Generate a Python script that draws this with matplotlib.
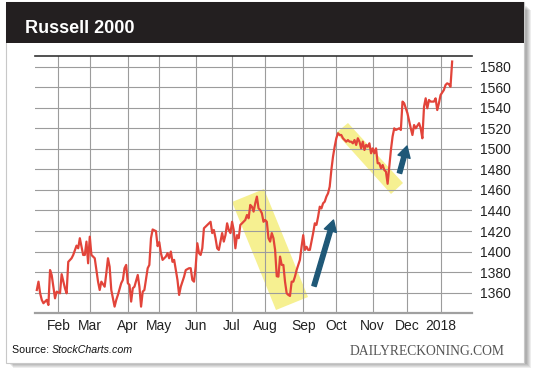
"""Russell 2000 daily close, Jan 2017 - Jan 2018 (StockCharts style card)."""

import matplotlib.pyplot as plt
import numpy as np
from matplotlib.patches import Polygon, Rectangle

W, H = 540, 376

# trading sessions counted from 3 Jan 2017 (session 0)
session = [
    7, 8, 9, 10, 11, 13, 14, 15, 16, 18, 19, 21, 22, 24, 25, 26, 28, 29, 31, 32,
    33, 35, 36, 37, 38, 39, 40, 42, 43, 44, 45, 46, 48, 49, 50, 51, 52, 54, 55, 56,
    58, 59, 60, 61, 62, 63, 64, 65, 66, 68, 69, 70, 71, 72, 74, 75, 76, 77, 79, 80,
    81, 82, 83, 85, 86, 87, 88, 89, 90, 92, 93, 94, 96, 97, 99, 100, 101, 102, 103, 104,
    105, 106, 107, 108, 109, 111, 112, 113, 114, 115, 116, 117, 118, 119, 120, 121, 122, 123, 124, 125,
    126, 127, 128, 129, 130, 131, 133, 134, 135, 136, 137, 138, 139, 140, 141, 142, 143, 144, 145, 146,
    147, 148, 149, 150, 151, 152, 153, 154, 155, 156, 157, 158, 159, 160, 161, 162, 163, 164, 165, 166,
    167, 168, 169, 170, 171, 172, 173, 174, 175, 176, 177, 178, 179, 180, 181, 182, 183, 184, 185, 186,
    187, 188, 189, 190, 191, 192, 193, 194, 195, 196, 197, 198, 199, 200, 201, 202, 203, 204, 205, 206,
    207, 208, 209, 210, 211, 212, 213, 214, 215, 216, 217, 218, 219, 220, 221, 222, 223, 224, 226, 227,
    228, 229, 230, 231, 233, 234, 235, 236, 238, 239, 240, 241, 242, 243, 244, 245, 247, 248, 249, 250,
    251, 253, 254, 255, 256, 257, 258,
]
close = [
    1362.6, 1370.7, 1359.4, 1352.9, 1349.7, 1353.0, 1348.0, 1382.0, 1377.0, 1354.5,
    1361.0, 1359.4, 1378.0, 1364.3, 1359.4, 1390.0, 1393.5, 1396.7, 1405.8, 1403.2,
    1413.0, 1396.7, 1396.7, 1409.7, 1388.6, 1414.5, 1396.7, 1393.5, 1382.0, 1370.7,
    1362.6, 1370.7, 1365.8, 1378.9, 1393.5, 1385.3, 1362.6, 1346.4, 1352.9, 1357.8,
    1369.2, 1372.4, 1383.8, 1387.0, 1369.2, 1367.5, 1351.3, 1364.3, 1365.8, 1377.2,
    1365.8, 1346.4, 1361.0, 1362.6, 1383.8, 1387.0, 1413.0, 1421.5, 1419.9, 1405.3,
    1409.2, 1398.5, 1391.9, 1395.1, 1398.5, 1393.5, 1400.0, 1390.0, 1391.9, 1372.4,
    1357.8, 1365.8, 1375.6, 1382.0, 1383.8, 1383.8, 1372.4, 1370.7, 1385.3, 1408.1,
    1398.5, 1396.7, 1403.2, 1422.7, 1424.3, 1427.5, 1429.0, 1418.0, 1421.0, 1413.0,
    1403.2, 1401.6, 1409.7, 1418.0, 1409.7, 1416.0, 1427.5, 1421.0, 1418.0, 1429.0,
    1421.0, 1403.2, 1416.0, 1413.0, 1426.0, 1427.5, 1430.8, 1435.6, 1432.4, 1445.4,
    1443.7, 1438.9, 1447.0, 1453.5, 1442.1, 1440.5, 1437.3, 1429.0, 1430.8, 1429.0,
    1413.0, 1409.7, 1418.0, 1413.0, 1401.6, 1376.0, 1375.6, 1395.1, 1387.0, 1387.0,
    1370.7, 1359.4, 1357.8, 1356.8, 1370.7, 1370.7, 1375.6, 1382.0, 1387.0, 1391.9,
    1404.7, 1416.0, 1401.6, 1404.7, 1401.6, 1401.6, 1409.7, 1418.0, 1427.5, 1426.0,
    1434.0, 1443.7, 1442.0, 1447.0, 1448.6, 1453.5, 1456.7, 1463.2, 1479.4, 1492.4,
    1502.1, 1510.3, 1515.2, 1513.5, 1513.5, 1510.3, 1508.6, 1507.0, 1508.6, 1507.0,
    1507.0, 1505.4, 1508.6, 1503.8, 1510.3, 1507.0, 1500.5, 1507.0, 1498.9, 1503.8,
    1502.1, 1505.4, 1495.7, 1500.5, 1495.7, 1500.5, 1486.0, 1486.0, 1481.1, 1484.3,
    1479.4, 1477.8, 1466.0, 1482.6, 1499.0, 1512.0, 1520.0, 1518.4, 1520.0, 1518.4,
    1546.0, 1544.4, 1539.5, 1534.6, 1520.0, 1513.5, 1523.2, 1520.0, 1525.0, 1520.0,
    1510.3, 1541.0, 1549.2, 1539.5, 1547.6, 1546.0, 1546.0, 1549.2, 1537.8, 1544.4,
    1552.4, 1557.3, 1562.2, 1563.8, 1563.0, 1560.5, 1585.0,
]

month_starts = [
    "2017-02-01", "2017-03-01", "2017-04-01", "2017-05-01", "2017-06-01", "2017-07-01",
    "2017-08-01", "2017-09-01", "2017-10-01", "2017-11-01", "2017-12-01", "2018-01-01",
]
month_labels = ["Feb", "Mar", "Apr", "May", "Jun", "Jul", "Aug", "Sep", "Oct", "Nov", "Dec", "2018"]
holidays = [
    "2017-01-16", "2017-02-20", "2017-04-14", "2017-05-29", "2017-07-04",
    "2017-09-04", "2017-11-23", "2017-12-25", "2018-01-01",
]
y_ticks = list(range(1360, 1581, 20))


def fig_xy(x, y):
    # pixel position (from top-left) -> figure fraction
    return x / W, 1 - y / H


fig = plt.figure(figsize=(W / 100, H / 100), dpi=100)
fig.patch.set_facecolor("white")

# card with soft drop shadow
for i in range(1, 6):
    x0, y0 = fig_xy(8 + i, 363 + i)
    fig.add_artist(Rectangle((x0, y0), 518 / W, 358 / H, transform=fig.transFigure,
                             facecolor="black", alpha=0.07, edgecolor="none", zorder=-5))
x0, y0 = fig_xy(6, 363)
fig.add_artist(Rectangle((x0, y0), 518 / W, 361 / H, transform=fig.transFigure,
                         facecolor="white", edgecolor="#c8c8c8", lw=0.8, zorder=-4))
x0, y0 = fig_xy(6, 43)
fig.add_artist(Rectangle((x0, y0), 518 / W, 41 / H, transform=fig.transFigure,
                         facecolor="#231f20", edgecolor="none", zorder=-3))
fig.text(*fig_xy(25, 33), "Russell 2000", color="white", fontsize=13, fontweight="bold",
         family="Liberation Sans", va="baseline", ha="left")

ax = fig.add_axes([35 / W, 63 / H, 437 / W, 257 / H])
ax.set_facecolor("none")
ax.set_axisbelow(True)

# highlight bands and arrows (pixel positions on the card)
bands = [
    [(232, 202), (264, 189), (308, 297), (276, 310)],
    [(336, 133), (348, 123), (403, 183), (391, 194)],
]
for band in bands:
    ax.add_patch(Polygon([fig_xy(x, y) for x, y in band], closed=True, transform=fig.transFigure,
                         facecolor="#f6f091", edgecolor="none", zorder=0.3, clip_on=False))

ax.plot(session, close, color="#e2443a", lw=1.6, zorder=3)

arrows = [((314, 286), (333.5, 220)), ((399.5, 173), (407, 146))]
for (tx, ty), (hx, hy) in arrows:
    ax.annotate("", xy=fig_xy(hx, hy), xycoords="figure fraction",
                xytext=fig_xy(tx, ty), textcoords="figure fraction",
                arrowprops=dict(arrowstyle="simple,head_width=0.45,head_length=0.4,tail_width=0.16",
                                mutation_scale=20, color="#1f5877", shrinkA=0, shrinkB=0),
                zorder=4)

ticks = np.busday_count("2017-01-03", month_starts, holidays=holidays)
ax.set_xticks(ticks)
ax.set_xticklabels(month_labels)
ax.set_yticks(y_ticks)
ax.set_xlim(5.9, 270)
ax.set_ylim(1340.2, 1590.4)
ax.yaxis.tick_right()
ax.tick_params(axis="both", length=0, labelsize=10, colors="#222222")
ax.tick_params(axis="x", pad=4)
ax.tick_params(axis="y", pad=6)
for label in ax.get_xticklabels() + ax.get_yticklabels():
    label.set_family("Liberation Sans")
ax.grid(True, color="#9c9c9c", lw=0.8)

for side in ("left", "right"):
    ax.spines[side].set_visible(False)
ax.spines["top"].set_color("#333333")
ax.spines["top"].set_linewidth(1.2)
ax.spines["bottom"].set_color("#a0a0a0")
ax.spines["bottom"].set_linewidth(1.6)

src = fig.text(*fig_xy(12, 353), "Source: ", fontsize=7.7, family="Liberation Sans",
               color="#111111", va="baseline", ha="left")
ax.annotate("StockCharts.com", xy=(1, 0), xycoords=src, va="bottom", ha="left",
            fontsize=7.7, family="Liberation Sans", style="italic", color="#111111",
            annotation_clip=False)
fig.text(*fig_xy(505, 355), "DAILYRECKONING.COM", fontsize=9.8, family="Liberation Serif",
         color="#555555", va="baseline", ha="right")

fig.savefig("out.png", dpi=100)
